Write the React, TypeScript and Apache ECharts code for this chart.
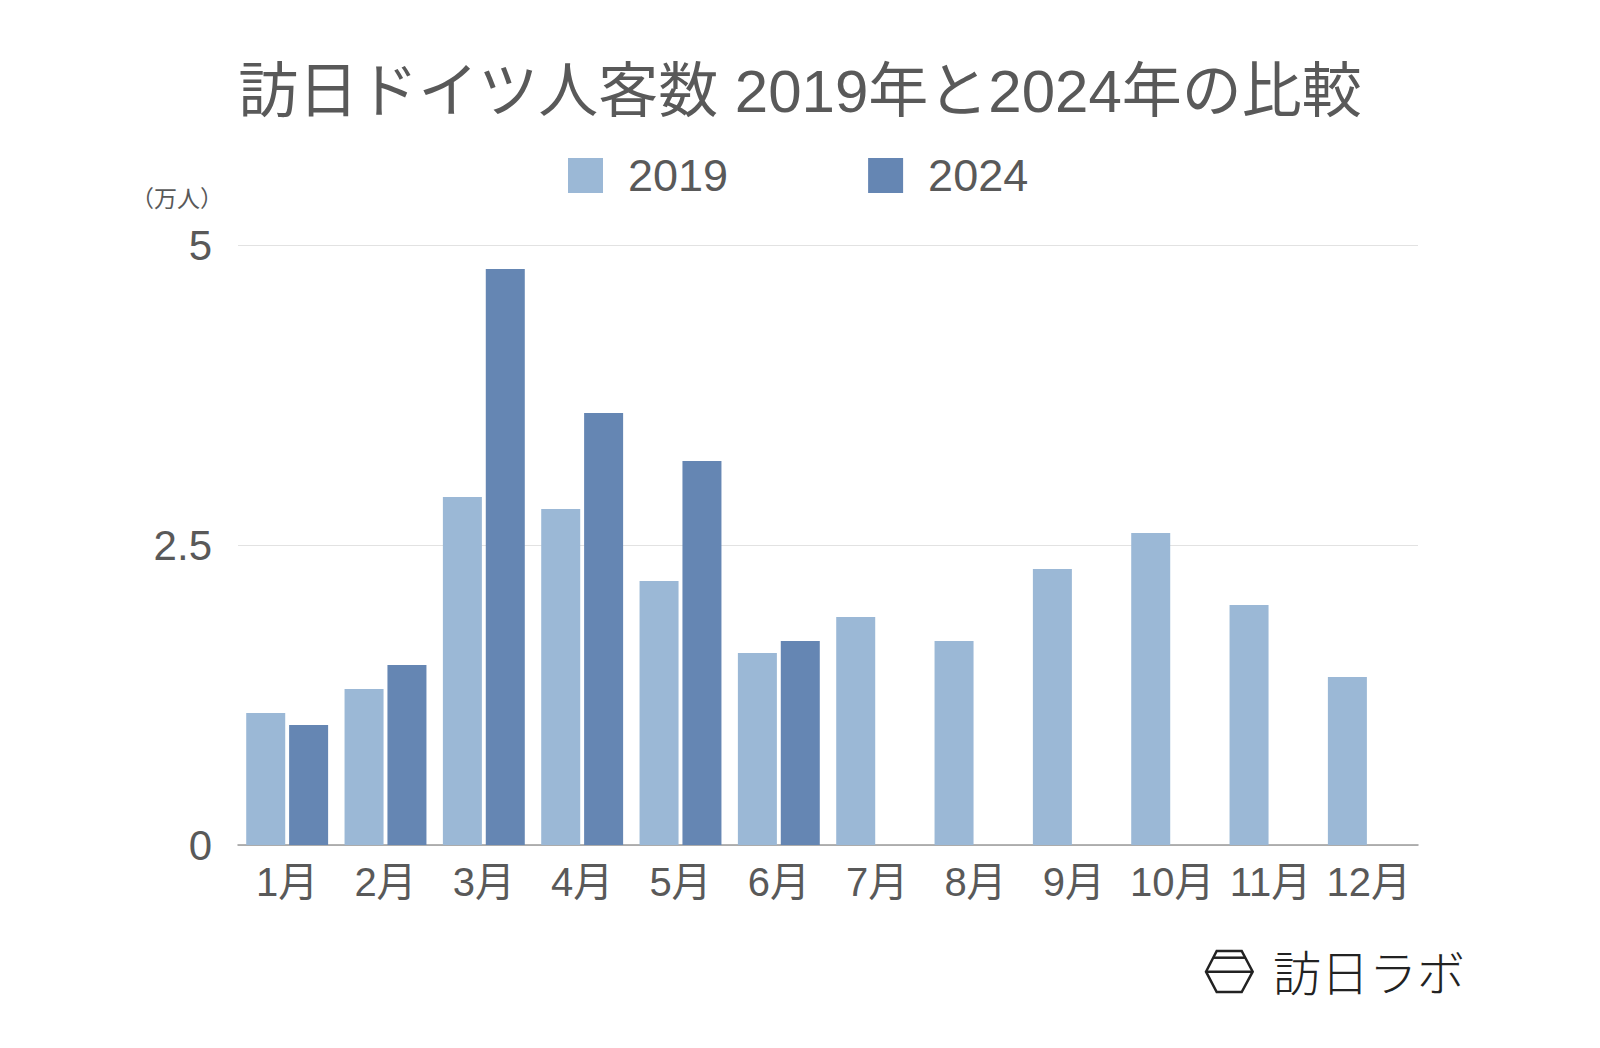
import React, { useEffect, useRef } from "react";
import * as echarts from "echarts";

const months = ["1月", "2月", "3月", "4月", "5月", "6月", "7月", "8月", "9月", "10月", "11月", "12月"];
const values2019 = [1.1, 1.3, 2.9, 2.8, 2.2, 1.6, 1.9, 1.7, 2.3, 2.6, 2.0, 1.4];
const values2024 = [1.0, 1.5, 4.8, 3.6, 3.2, 1.7, null, null, null, null, null, null];
const seriesNames = ["2019", "2024"];
const yTicks = [0, 2.5, 5];

const FONT = "'Liberation Sans', 'Noto Sans CJK JP', sans-serif";
const C2019 = "#9bb8d6";
const C2024 = "#6586b3";
const TEXT = "#595959";

export default function App() {
  const ref = useRef<HTMLDivElement>(null);
  useEffect(() => {
    if (!ref.current) return;
    const chart = echarts.init(ref.current, null, { renderer: "svg" });
    chart.setOption({
      animation: false,
      backgroundColor: "#ffffff",
      title: {
        text: "訪日ドイツ人客数 2019年と2024年の比較",
        left: "center",
        top: 56,
        textStyle: { fontFamily: FONT, fontSize: 60, fontWeight: "normal", color: TEXT },
      },
      legend: {
        data: seriesNames,
        top: 148,
        left: 563,
        itemWidth: 35,
        itemHeight: 35,
        itemGap: 140,
        icon: "rect",
        textStyle: {
          fontFamily: FONT,
          fontSize: 45,
          color: TEXT,
          padding: [0, 0, 0, 20],
        },
      },
      grid: { left: 238, right: 182, top: 245, bottom: 203, containLabel: false },
      xAxis: {
        type: "category",
        data: months,
        axisTick: { show: false },
        axisLine: { lineStyle: { color: "#9a9a9a", width: 1.5 } },
        axisLabel: {
          interval: 0,
          margin: 17,
          fontFamily: FONT,
          fontSize: 40,
          color: TEXT,
        },
      },
      yAxis: {
        type: "value",
        min: 0,
        max: 5,
        interval: 2.5,
        axisLine: { show: false },
        axisTick: { show: false },
        splitLine: { lineStyle: { color: "#e2e2e2", width: 1 } },
        axisLabel: {
          margin: 26,
          fontFamily: FONT,
          fontSize: 42,
          color: TEXT,
          formatter: (v: number) => (yTicks.includes(v) ? String(v) : ""),
        },
      },
      series: [
        {
          name: seriesNames[0],
          type: "bar",
          data: values2019,
          barWidth: 39,
          barGap: "10%",
          itemStyle: { color: C2019 },
        },
        {
          name: seriesNames[1],
          type: "bar",
          data: values2024,
          barWidth: 39,
          barGap: "10%",
          itemStyle: { color: C2024 },
        },
      ],
      graphic: [
        {
          type: "text",
          left: 131,
          top: 185,
          style: {
            text: "（万人）",
            fontFamily: "'Noto Sans CJK JP', sans-serif",
            fontSize: 23,
            fill: TEXT,
          },
        },
        {
          type: "polygon",
          shape: {
            points: [
              [1206, 971.7],
              [1216.7, 951],
              [1241.7, 951],
              [1252.7, 971.7],
              [1241.7, 992],
              [1216.7, 992],
            ],
          },
          style: { fill: "none", stroke: "#222", lineWidth: 2.5 },
        },
        {
          type: "line",
          shape: { x1: 1213.3, y1: 957.7, x2: 1245, y2: 957.7 },
          style: { stroke: "#222", lineWidth: 2.5 },
        },
        {
          type: "line",
          shape: { x1: 1206, y1: 971.7, x2: 1252.7, y2: 971.7 },
          style: { stroke: "#222", lineWidth: 2.5 },
        },
        {
          type: "text",
          x: 1273,
          y: 970,
          style: {
            text: "訪日ラボ",
            fontFamily: "'Noto Sans CJK JP', sans-serif",
            fontWeight: 300,
            fontSize: 48,
            fill: "#222",
            verticalAlign: "middle",
            align: "left",
          },
        },
      ],
    });
    return () => chart.dispose();
  }, []);
  return <div ref={ref} style={{ width: 1600, height: 1048, margin: -8 }} />;
}
